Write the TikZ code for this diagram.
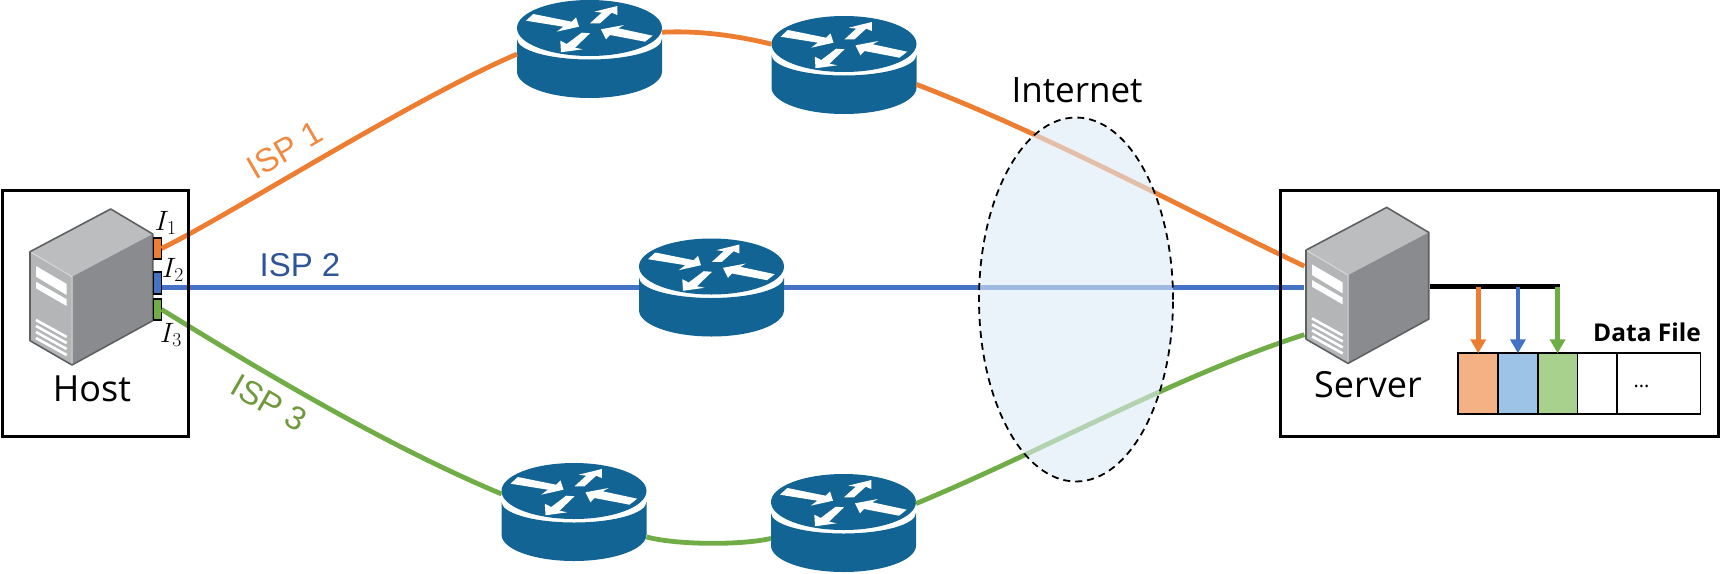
\documentclass[tikz,border=0pt]{standalone}
\usepackage{fix-cm}
\usepackage{fontspec}
\setmainfont{Open Sans}
\newfontfamily\arialfont{Liberation Sans}
\usetikzlibrary{arrows.meta, shapes.geometric, positioning, calc}
\definecolor{ink}     {HTML}{000000}
\definecolor{isporange}{HTML}{ED7D31}
\definecolor{ispblue} {HTML}{4472C4}
\definecolor{ispgreen}{HTML}{70AD47}
\definecolor{routerblue}{HTML}{116493}
\definecolor{lblorange}{HTML}{F08A42}
\definecolor{lblblue} {HTML}{2F5597}
\definecolor{lblgreen}{HTML}{6F9A3C}
\definecolor{skysoft} {HTML}{DEEBF7}
\definecolor{cellorange}{HTML}{F4B183}
\definecolor{cellblue}{HTML}{9DC3E6}
\definecolor{cellgreen}{HTML}{A9D18E}
\definecolor{srvtop}  {HTML}{BBBDBF}
\definecolor{srvfront}{HTML}{B3B5B7}
\definecolor{srvside} {HTML}{8A8B8E}
\definecolor{srvedge} {HTML}{5E6062}
\definecolor{srvlight}{HTML}{D6D7D9}
\newcommand{\fsize}[1]{\fontsize{#1}{#1}\selectfont}
\tikzset{
  routerbox/.style = {minimum width=145pt, minimum height=98pt, inner sep=0pt, outer sep=0pt,
    path picture={
      \begin{scope}[shift={(path picture bounding box.center)}]
        \fill[routerblue] (-72.5,-10) -- (-72.5,22.6)
          .. controls (-72.5,37.2) and (-40,49) .. (0,49)
          .. controls (40,49) and (72.5,37.2) .. (72.5,22.6) -- (72.5,-10)
          .. controls (72.5,1.3) and (40,10.5) .. (0,10.5)
          .. controls (-40,10.5) and (-72.5,1.3) .. (-72.5,-10) -- cycle;
        \fill[routerblue] (0,-21) ellipse [x radius=72.5pt, y radius=28pt];
        \fill[white] (-63.5,-28.3) -- (-56.2,-35) -- (-17.8,-27.3) -- (-13.5,-31.7)
          -- (-10.5,-22.3) -- (-32.8,-17.3) -- (-26.2,-22.3) -- cycle;
        \fill[white] (0.5,-25.7) -- (12.2,-36.3) -- (4.8,-37.3) -- (27.8,-43)
          -- (27.8,-34) -- (22.2,-36.3) -- (10.5,-25.7) -- cycle;
        \fill[white] (63.2,-13.3) -- (28.8,-20.7) -- (34.5,-24) -- (11.5,-19.7)
          -- (16.5,-9.7) -- (20.5,-14) -- (55.5,-7.3) -- cycle;
        \fill[white] (-7.8,-16.3) -- (0.5,-15.7) -- (-14.5,-1.3) -- (-6.8,0.3)
          -- (-28.5,3.3) -- (-29.2,-8.3) -- (-22.8,-5) -- cycle;
      \end{scope}
    }},
  serverbox/.style = {minimum width=126pt, minimum height=159pt, inner sep=0pt, outer sep=0pt,
    path picture={
      \begin{scope}[shift={(path picture bounding box.center)}]
        \fill[srvtop] (19.4,-78) -- (61.4,-53) -- (-19.3,-10.3) -- (-61.3,-35.3) -- cycle;
        \fill[srvfront] (-61.3,-35.3) -- (-19.3,-10.3) -- (-19.3,78) -- (-61.3,53.7) -- cycle;
        \fill[srvside] (-19.3,-10.3) -- (61.4,-53) -- (61.4,33.7) -- (-19.3,78) -- cycle;
        \draw[srvlight, line width=1pt] (-61.3,-35.3) -- (-19.3,-10.3) -- (-19.3,78);
        \draw[srvedge, line width=1.6pt, line join=round]
          (19.4,-78) -- (61.4,-53) -- (61.4,33.7) -- (-19.3,78) -- (-61.3,53.7)
          -- (-61.3,-35.3) -- cycle;
        \fill[white] (-55.3,-21) -- (-24.6,-3) -- (-24.6,8) -- (-55.3,-10.3) -- cycle;
        \fill[white] (-55.3,-5.3) -- (-24.6,12.3) -- (-24.6,19) -- (-55.3,1.3) -- cycle;
        \foreach \ypos in {33,39,45,51}
          \draw[white, line width=2.6pt] (-55.3,\ypos) -- (-24.6,\ypos+17);
      \end{scope}
    }},
  framebox/.style  = {draw=ink, line width=3pt, inner sep=0pt, outer sep=0pt},
  portbox/.style   = {draw=ink, line width=1.8pt, minimum width=8pt, inner sep=0pt, outer sep=0pt},
  cellbox/.style   = {draw=ink, line width=1.9pt, minimum height=61pt, minimum width=39.7pt,
                      inner sep=0pt, outer sep=0pt},
  cloudbox/.style  = {ellipse, draw=ink, line width=1.8pt, dash pattern=on 7pt off 5pt,
                      fill=skysoft, fill opacity=0.6, draw opacity=1,
                      minimum width=194pt, minimum height=364pt, inner sep=0pt},
  link/.style      = {line width=4.8pt},
  arr/.style       = {-{Triangle[length=14pt, width=15pt]}, line width=4.8pt},
  bigname/.style   = {font=\fsize{36}, text=ink, anchor=base},
  isplabel/.style  = {font=\arialfont\fsize{33}, inner sep=0pt},
  portlabel/.style = {font=\fsize{28}, text=ink, inner sep=0pt},
}
\begin{document}
\begin{tikzpicture}[x=1pt, y=-1pt]
  \useasboundingbox (0,0) rectangle (1720,573);

  % --- machines and ports ---
  \node[serverbox] (host) at (91.3,287) {};
  \node[serverbox] (server) at (1367.3,285.4) {};
  \node[portbox, fill=isporange, minimum height=21.6pt] (i1) at (157.5,248.5) {};
  \node[portbox, fill=ispblue,   minimum height=22.6pt] (i2) at (157.5,283) {};
  \node[portbox, fill=ispgreen,  minimum height=21.4pt] (i3) at (157.5,309.4) {};

  % --- routers ---
  \node[routerbox] (r1) at (589.5,49) {};
  \node[routerbox] (r2) at (844,65) {};
  \node[routerbox] (r3) at (711.5,287.5) {};
  \node[routerbox] (r4) at (574,512) {};
  \node[routerbox] (r5) at (843.5,523) {};

  % --- ISP links ---
  \draw[link, isporange] (i1.east) .. controls +(68.5,-33.5) and +(-107,46) .. (r1.184);
  \draw[link, isporange] (r1.13) .. controls +(38,-2) and +(-32,-8) .. (r2.164);
  \draw[link, isporange] (r2.-15) .. controls +(130,50) and +(-130,-62) .. (server.163);
  \draw[link, ispblue] (i2.east |- r3.west) -- (r3.west);
  \draw[link, ispblue] (r3.east) -- (r3.east -| server.west);
  \draw[link, ispgreen] (i3.east) .. controls +(110,68) and +(-110,-46) .. (r4.166);
  \draw[link, ispgreen] (r4.-19) .. controls +(30,8) and +(-30,7) .. (r5.192);
  \draw[link, ispgreen] (r5.15) .. controls +(130,-54) and +(-130,42) .. (server.218);

  % --- boxes ---
  \node[framebox, minimum width=186.6pt, minimum height=246.2pt] (hostframe) at (95.5,313.3) {};
  \node[framebox, minimum width=437.4pt, minimum height=246.6pt] (serverframe) at (1499.5,313.5) {};

  % --- internet ---
  \node[cloudbox] (cloud) at (1076,299.5) {};
  \node[bigname, font=\fsize{35}] (cloudname) at (1077,102.7) {Internet};

  % --- data file ---
  \node[cellbox, fill=cellorange] (c1) at (1478.2,383.8) {};
  \node[cellbox, fill=cellblue, right=0pt of c1] (c2) {};
  \node[cellbox, fill=cellgreen, right=0pt of c2] (c3) {};
  \node[cellbox, right=0pt of c3] (c4) {};
  \node[cellbox, minimum width=83.3pt, right=0pt of c4] (c5) {};
  \node[font=\fsize{20}, text=ink, inner sep=0pt, anchor=base] (dots) at (1641.5,387) {...};
  \node[font=\bfseries\fsize{24.5}, text=ink, anchor=base] (filename) at (1647,341.7) {Data File};

  % --- fan out ---
  \coordinate (busend) at (1560,286.7);
  \draw[ink, line width=5pt] (server.east |- busend) -- (busend);
  \draw[arr, isporange] (c1.north |- busend) -- (c1.north);
  \draw[arr, ispblue]   (c2.north |- busend) -- (c2.north);
  \draw[arr, ispgreen]  (c3.north |- busend) -- (c3.north);

  % labels
  \node[bigname] (hostname) at (92,401.7) {Host};
  \node[bigname] (servername) at (1368,397) {Server};
  \node[isplabel, text=lblorange, rotate=30] (isp1) at (285,150) {ISP 1};
  \node[isplabel, text=lblblue] (isp2) at (300,265) {ISP 2};
  \node[isplabel, text=lblgreen, rotate=-30] (isp3) at (269,403) {ISP 3};
  \node[portlabel] (l1) at (165.7,223) {$I_1$};
  \node[portlabel] (l2) at (173,270) {$I_2$};
  \node[portlabel] (l3) at (171,335) {$I_3$};

\end{tikzpicture}
\end{document}
